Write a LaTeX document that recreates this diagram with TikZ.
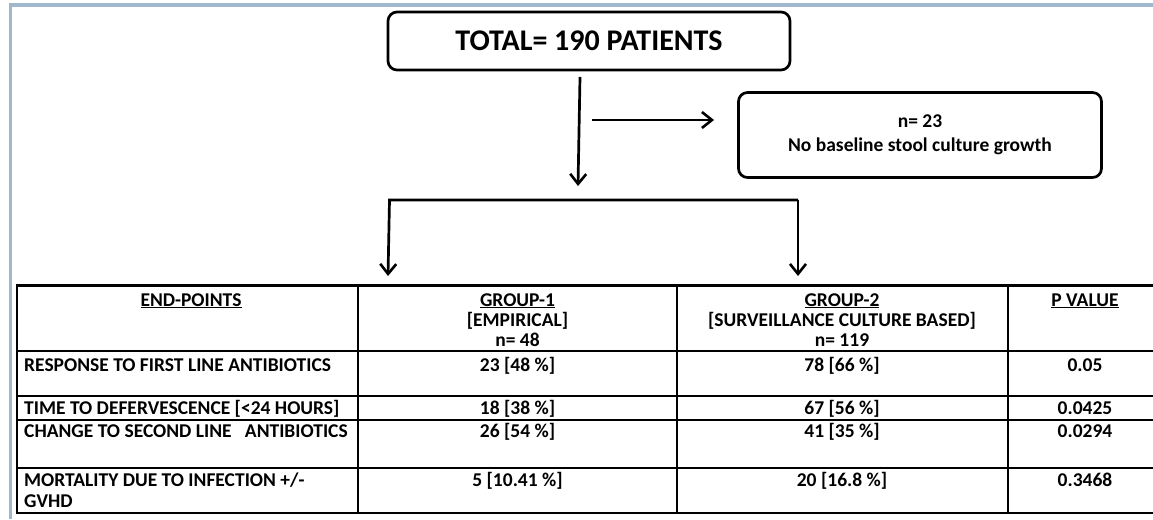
\documentclass[tikz,border=0pt]{standalone}
\usepackage{fontspec}
\setmainfont{Carlito}
\usetikzlibrary{arrows.meta}
\definecolor{framecol}{RGB}{160,184,206}
\tikzset{
  box/.style={draw, line width=2.7pt, rounded corners=9pt, inner sep=0pt, align=center},
  conn/.style={line width=2.7pt, line join=miter, -{Straight Barb[length=10pt,width=16pt,line width=2.6pt]}},
  gridline/.style={line width=2.8pt, line cap=rect},
  cell/.style={inner sep=0pt, font=\bfseries\fontsize{19.5}{21}\selectfont},
  cellc/.style={cell, anchor=base},
  celll/.style={cell, anchor=base west},
  framestyle/.style={draw=framecol, line width=3.5pt},
}
\begin{document}
\begin{tikzpicture}[x=1pt, y=-1pt]
\clip (0,0) rectangle (1153,519);
\fill[white] (0,0) rectangle (1153,519);
% frame
\draw[framestyle] (9,5) -- (1153,5);
\draw[framestyle] (10.7,3.5) -- (10.7,519);

% boxes
\node[box, minimum width=402pt, minimum height=58pt, font=\bfseries\fontsize{30}{34}\selectfont] (total) at (589,41) {TOTAL= 190 PATIENTS};
\node[box, minimum width=363pt, minimum height=85pt, font=\bfseries\fontsize{19.5}{23.5}\selectfont] (excl) at (920,135) {n= 23\\No baseline stool culture growth};

% connectors
\coordinate (a1) at (580,77);
\coordinate (a2) at (578,186);
\draw[conn] (a1) -- (a2);
\coordinate (h1) at (592,120);
\coordinate (h2) at (714,120);
\draw[conn] (h1) -- (h2);
\coordinate (b1) at (389.5,200);
\coordinate (b2) at (798,200);
\coordinate (d1) at (388,276);
\coordinate (d2) at (798,276);
\draw[conn] (b2) -- (b1) -- (d1);
\draw[conn] (b2) -- (d2);

% table grid
\draw[gridline] (17,285.5) -- (1170,285.5);
\foreach \yy in {351,396,420,468,513} {\draw[gridline] (17,\yy) -- (1170,\yy);}
\foreach \xx in {17,358,677,1008,1162} {\draw[gridline] (\xx,285.5) -- (\xx,513);}

% header
\node[cellc] (h0) at (191,306) {\underline{END-POINTS}};
\node[cellc] (h1a) at (517.5,306) {\underline{GROUP-1}};
\node[cellc] (h1b) at (517.5,326) {[EMPIRICAL]};
\node[cellc] (h1c) at (517.5,346) {n= 48};
\node[cellc] (h2a) at (842,306) {\underline{GROUP-2}};
\node[cellc] (h2b) at (842,326) {[SURVEILLANCE CULTURE BASED]};
\node[cellc] (h2c) at (842,346) {n= 119};
\node[cellc] (h3a) at (1085,306) {\underline{P VALUE}};

% rows
\node[celll] (r1a) at (24,371.5) {RESPONSE TO FIRST LINE ANTIBIOTICS};
\node[cellc] (r1b) at (517.5,371.5) {23 [48 \%]};
\node[cellc] (r1c) at (842,371.5) {78 [66 \%]};
\node[cellc] (r1d) at (1085,371.5) {0.05};

\node[celll] (r2a) at (24,414.5) {TIME TO DEFERVESCENCE [<24 HOURS]};
\node[cellc] (r2b) at (517.5,414.5) {18 [38 \%]};
\node[cellc] (r2c) at (842,414.5) {67 [56 \%]};
\node[cellc] (r2d) at (1085,414.5) {0.0425};

\node[celll] (r3a) at (24,437.5) {CHANGE TO SECOND LINE\ \ \ ANTIBIOTICS};
\node[cellc] (r3b) at (517.5,437.5) {26 [54 \%]};
\node[cellc] (r3c) at (842,437.5) {41 [35 \%]};
\node[cellc] (r3d) at (1085,437.5) {0.0294};

\node[celll] (r4a) at (24,486.5) {MORTALITY DUE TO INFECTION +/-};
\node[celll] (r4a2) at (24,507.5) {GVHD};
\node[cellc] (r4b) at (517.5,486.5) {5 [10.41 \%]};
\node[cellc] (r4c) at (842,486.5) {20 [16.8 \%]};
\node[cellc] (r4d) at (1085,486.5) {0.3468};
\end{tikzpicture}
\end{document}
